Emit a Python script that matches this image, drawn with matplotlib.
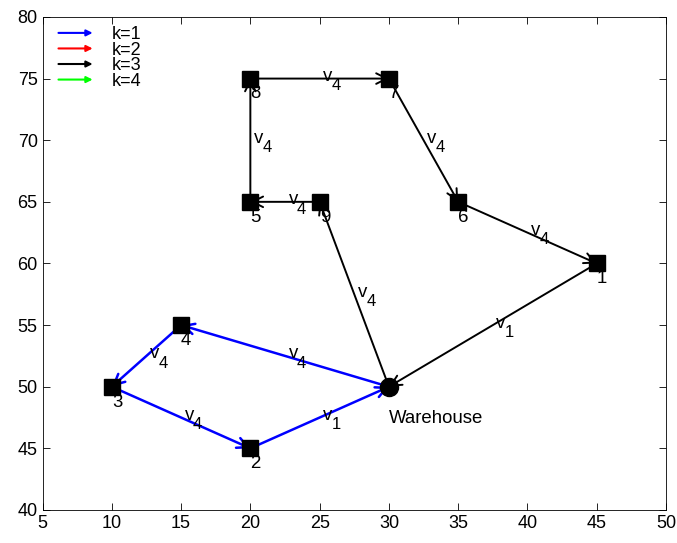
import matplotlib
matplotlib.use('Agg')
import matplotlib.pyplot as plt
from matplotlib.legend_handler import HandlerBase
from matplotlib.lines import Line2D
from matplotlib.patches import FancyArrowPatch

plt.rcParams['font.family'] = ['Liberation Sans', 'DejaVu Sans']

# node coordinates (index 0 = warehouse)
node_names = ['Warehouse', '1', '2', '3', '4', '5', '6', '7', '8', '9']
node_x = [30, 45, 20, 10, 15, 20, 35, 30, 20, 25]
node_y = [50, 60, 45, 50, 55, 65, 65, 75, 75, 65]

# routes per vehicle type k, with vehicle index of each leg
route_k1 = [0, 4, 3, 2, 0]
route_k1_labels = ['4', '4', '4', '1']
route_k3 = [0, 9, 5, 8, 7, 6, 1, 0]
route_k3_labels = ['4', '4', '4', '4', '4', '4', '1']

legend_labels = ['k=1', 'k=2', 'k=3', 'k=4']
legend_colors = ['blue', 'red', 'black', 'lime']

FS = 13.4


class ArrowHandler(HandlerBase):
    def create_artists(self, legend, orig_handle, xdescent, ydescent,
                       width, height, fontsize, trans):
        y = height / 2 - ydescent
        a = FancyArrowPatch((-xdescent, y), (width - xdescent, y),
                            arrowstyle='-|>', mutation_scale=9,
                            color=orig_handle.get_color(),
                            lw=orig_handle.get_linewidth(), transform=trans)
        return [a]


def draw_route(ax, route, labels, color, lw):
    for i in range(len(route) - 1):
        a, b = route[i], route[i + 1]
        x0, y0 = node_x[a], node_y[a]
        x1, y1 = node_x[b], node_y[b]
        ax.annotate('', xy=(x1, y1), xytext=(x0, y0),
                    arrowprops=dict(arrowstyle='->', color=color, lw=lw,
                                    shrinkA=0, shrinkB=0, mutation_scale=19),
                    zorder=2)
        mid = ((x0 + x1) / 2, (y0 + y1) / 2)
        # "v" with subscript drawn MATLAB-style (subscript at full size)
        ax.annotate('v', xy=mid, xytext=(2.5, 1.5), textcoords='offset points',
                    ha='left', va='center', fontsize=FS, zorder=4)
        ax.annotate(labels[i], xy=mid, xytext=(8.6, -5.2),
                    textcoords='offset points', ha='left', va='center',
                    fontsize=FS - 1.5, zorder=4)


fig = plt.figure(figsize=(6.77, 5.43), dpi=100)
ax = fig.add_axes([0.0628, 0.0608, 0.921, 0.908])

draw_route(ax, route_k1, route_k1_labels, 'blue', 1.8)
draw_route(ax, route_k3, route_k3_labels, 'black', 1.4)

# nodes
ax.plot(node_x[0], node_y[0], 'o', color='black', markersize=13, zorder=3)
ax.plot(node_x[1:], node_y[1:], 's', color='black', markersize=11.5,
        linestyle='none', zorder=3)
ax.text(node_x[0], node_y[0] - 2.6, node_names[0], ha='left', va='center',
        fontsize=FS, zorder=4)
for name, x, y in zip(node_names[1:], node_x[1:], node_y[1:]):
    ax.text(x, y - 1.25, name, ha='left', va='center', fontsize=FS, zorder=4)

ax.set_xlim(5, 50)
ax.set_ylim(40, 80)
ax.set_xticks(range(5, 51, 5))
ax.set_yticks(range(40, 81, 5))
ax.tick_params(direction='in', top=True, right=True, labelsize=13, length=5,
               width=0.6)
for s in ax.spines.values():
    s.set_linewidth(0.6)

handles = [Line2D([], [], color=c, lw=1.5) for c in legend_colors]
ax.legend(handles, legend_labels, loc='upper left', frameon=False,
          bbox_to_anchor=(0.011, 0.994),
          handler_map={Line2D: ArrowHandler()}, fontsize=13,
          handlelength=2.2, labelspacing=-0.08, borderaxespad=0.0,
          borderpad=0.35, handletextpad=0.9, handleheight=0.7)

fig.savefig('out.png', dpi=100)
